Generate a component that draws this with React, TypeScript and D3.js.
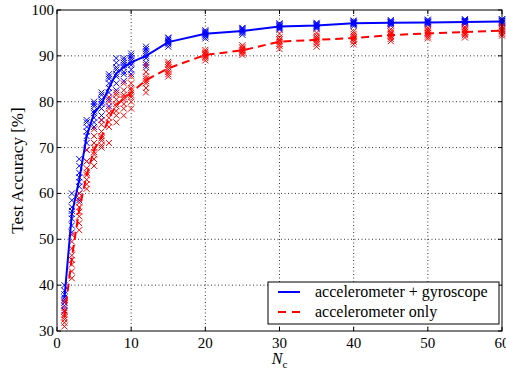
import React from "react";
import * as d3 from "d3";

const nValues = [1, 2, 3, 4, 5, 6, 7, 8, 9, 10, 12, 15, 20, 25, 30, 35, 40, 45, 50, 55, 60];

const gyroMean = [37.1, 55.5, 63, 72.5, 77.5, 79.5, 83, 86.2, 87.5, 88.6, 90, 93, 94.8, 95.4, 96.4, 96.6, 97.1, 97.2, 97.3, 97.4, 97.5];
const accMean = [33, 46, 56.5, 64, 69.5, 72.3, 76.5, 79.2, 80.7, 82, 84.7, 87.3, 90.2, 91.2, 93.1, 93.5, 93.9, 94.5, 94.9, 95.2, 95.5];

const gyroTrials = [
  [34.5, 35.5, 36.2, 36.8, 37.3, 38.0, 38.8, 40.0],
  [51.5, 53, 54.5, 55.5, 56.2, 57, 58.5, 60],
  [58.5, 60, 61.5, 62.5, 63.5, 64.5, 66, 67.5],
  [67, 69.5, 71, 72.5, 73.5, 74.5, 75.5, 76],
  [74.5, 75.5, 76.5, 77.5, 78, 79, 79.5, 80],
  [76, 77, 78.5, 79.5, 80, 80.5, 81.5, 82],
  [79, 80.5, 82, 83, 84, 85, 85.5, 86],
  [82.5, 84, 85.5, 86, 87, 87.5, 88.5, 89.5],
  [84.5, 86, 86.5, 87.5, 88, 88.5, 89, 89.5],
  [86, 87, 88, 88.5, 89, 89.5, 90, 90.5],
  [87.5, 88.5, 89.5, 90, 90.5, 91, 91.5, 92],
  [92, 92.5, 92.8, 93, 93.2, 93.5, 93.8, 94],
  [93.8, 94.2, 94.5, 94.7, 94.9, 95.1, 95.3, 95.6],
  [94.6, 95, 95.2, 95.4, 95.6, 95.8, 96, 96.1],
  [95.7, 96, 96.2, 96.4, 96.5, 96.7, 96.9, 97.1],
  [95.9, 96.2, 96.4, 96.6, 96.7, 96.9, 97.0, 97.2],
  [96.5, 96.8, 97.0, 97.1, 97.2, 97.3, 97.5, 97.7],
  [96.6, 96.9, 97.0, 97.2, 97.3, 97.4, 97.6, 97.8],
  [96.8, 97.0, 97.2, 97.3, 97.4, 97.5, 97.7, 97.9],
  [96.9, 97.1, 97.3, 97.4, 97.5, 97.6, 97.8, 98.0],
  [97.0, 97.2, 97.3, 97.5, 97.6, 97.7, 97.9, 98.0],
];

const accTrials = [
  [31, 31.8, 32.5, 33, 33.5, 34.2, 35, 36.5],
  [41.5, 43, 44.5, 45.5, 46.5, 48, 49.5, 51],
  [52, 53.5, 55, 56, 57, 58, 59, 60],
  [61, 62, 63, 64, 64.5, 65.5, 67, 69.5],
  [66, 67.5, 68.5, 69, 70, 71, 72.5, 74],
  [70, 70.5, 71.5, 72, 72.5, 73.5, 75, 76],
  [71, 74.5, 75.5, 76.5, 77.5, 78.5, 80, 81],
  [75.5, 77, 78, 79, 79.5, 80.5, 81.5, 82],
  [77, 78.5, 79.5, 80.5, 81, 81.5, 82.5, 84],
  [78.5, 80, 81, 81.5, 82.5, 83, 84, 85.5],
  [82, 83, 84, 84.5, 85, 85.5, 86.5, 88],
  [85.5, 86, 86.5, 87, 87.5, 88, 88.3, 88.7],
  [89, 89.5, 89.8, 90.1, 90.4, 90.6, 90.9, 91.3],
  [90.2, 90.6, 90.9, 91.1, 91.3, 91.6, 91.9, 92.3],
  [91.5, 92.2, 92.6, 93, 93.3, 93.6, 94, 94.8],
  [92, 92.6, 93, 93.4, 93.7, 94, 94.4, 95],
  [92.5, 93.1, 93.5, 93.8, 94.1, 94.4, 94.8, 95.3],
  [93.2, 93.7, 94.1, 94.4, 94.7, 95, 95.3, 95.8],
  [93.8, 94.2, 94.6, 94.9, 95.1, 95.4, 95.7, 96.1],
  [94, 94.5, 94.8, 95.1, 95.3, 95.6, 95.9, 96.3],
  [94.4, 94.8, 95.1, 95.4, 95.6, 95.9, 96.2, 96.5],
];

const xTicks = [0, 10, 20, 30, 40, 50, 60];
const yTicks = [30, 40, 50, 60, 70, 80, 90, 100];
const legendLabels = ["accelerometer + gyroscope", "accelerometer only"];

const W = 506, H = 370;
const M = { left: 57, right: 4, top: 10, bottom: 39 };
const FONT = "'Liberation Serif', 'DejaVu Serif', serif";

export default function App() {
  const x = d3.scaleLinear().domain([0, 60]).range([M.left, W - M.right]);
  const y = d3.scaleLinear().domain([30, 100]).range([H - M.bottom, M.top]);
  const x0 = x(0), x1 = x(60), y0 = y(30), y1 = y(100);

  const line = d3.line<number>().x((_, i) => x(nValues[i])).y((d) => y(d));

  const cross = (cx: number, cy: number, color: string, key: string) => {
    const s = 3;
    return (
      <path key={key} d={`M${cx - s},${cy - s}L${cx + s},${cy + s}M${cx - s},${cy + s}L${cx + s},${cy - s}`}
        stroke={color} strokeWidth={1} fill="none" />
    );
  };

  const tickLen = 4;
  const legX = 268, legY = 282, legW = 231, legH = 42;

  return (
    <svg width={W} height={H} style={{ position: "absolute", left: 0, top: 0, background: "#fff" }}>
      <rect x={0} y={0} width={W} height={H} fill="#fff" />
      {/* grid */}
      <g stroke="#000" strokeWidth={0.8} strokeDasharray="1,2.5">
        {xTicks.slice(1, -1).map((t) => (
          <line key={"gx" + t} x1={x(t)} x2={x(t)} y1={y0} y2={y1} />
        ))}
        {yTicks.slice(1, -1).map((t) => (
          <line key={"gy" + t} x1={x0} x2={x1} y1={y(t)} y2={y(t)} />
        ))}
      </g>
      {/* trials */}
      <g>
        {gyroTrials.map((arr, i) => arr.map((v, j) => cross(x(nValues[i]), y(v), "#0000ff", `g${i}-${j}`)))}
        {accTrials.map((arr, i) => arr.map((v, j) => cross(x(nValues[i]), y(v), "#ff0000", `a${i}-${j}`)))}
      </g>
      <path d={line(gyroMean) || ""} fill="none" stroke="#0000ff" strokeWidth={2} />
      <path d={line(accMean) || ""} fill="none" stroke="#ff0000" strokeWidth={2} strokeDasharray="8,5" />
      {/* frame */}
      <rect x={x0} y={y1} width={x1 - x0} height={y0 - y1} fill="none" stroke="#000" strokeWidth={1} />
      <g stroke="#000" strokeWidth={1}>
        {xTicks.map((t) => (
          <g key={"tx" + t}>
            <line x1={x(t)} x2={x(t)} y1={y0} y2={y0 - tickLen} />
            <line x1={x(t)} x2={x(t)} y1={y1} y2={y1 + tickLen} />
          </g>
        ))}
        {yTicks.map((t) => (
          <g key={"ty" + t}>
            <line x1={x0} x2={x0 + tickLen} y1={y(t)} y2={y(t)} />
            <line x1={x1} x2={x1 - tickLen} y1={y(t)} y2={y(t)} />
          </g>
        ))}
      </g>
      {/* tick labels */}
      <g fontFamily={FONT} fontSize={15} fill="#000">
        {xTicks.map((t) => (
          <text key={"lx" + t} x={x(t)} y={y0 + 17} textAnchor="middle">{t}</text>
        ))}
        {yTicks.map((t) => (
          <text key={"ly" + t} x={x0 - 3} y={y(t) + 5} textAnchor="end">{t}</text>
        ))}
      </g>
      {/* axis labels */}
      <text x={(x0 + x1) / 2} y={H - 6} textAnchor="middle" fontFamily={FONT} fontSize={16}>
        <tspan fontStyle="italic">N</tspan>
        <tspan fontSize={11} dy={4}>c</tspan>
      </text>
      <text transform={`translate(23,${(y0 + y1) / 2}) rotate(-90)`} textAnchor="middle" fontFamily={FONT} fontSize={17}>
        Test Accuracy [%]
      </text>
      {/* legend */}
      <rect x={legX} y={legY} width={legW} height={legH} fill="#fff" stroke="#000" strokeWidth={1} />
      <line x1={legX + 10} x2={legX + 32} y1={legY + 10} y2={legY + 10} stroke="#0000ff" strokeWidth={2} />
      <line x1={legX + 10} x2={legX + 32} y1={legY + 30} y2={legY + 30} stroke="#ff0000" strokeWidth={2} strokeDasharray="8,6" />
      <g fontFamily={FONT} fontSize={16}>
        <text x={legX + 47} y={legY + 15}>{legendLabels[0]}</text>
        <text x={legX + 47} y={legY + 35}>{legendLabels[1]}</text>
      </g>
    </svg>
  );
}
